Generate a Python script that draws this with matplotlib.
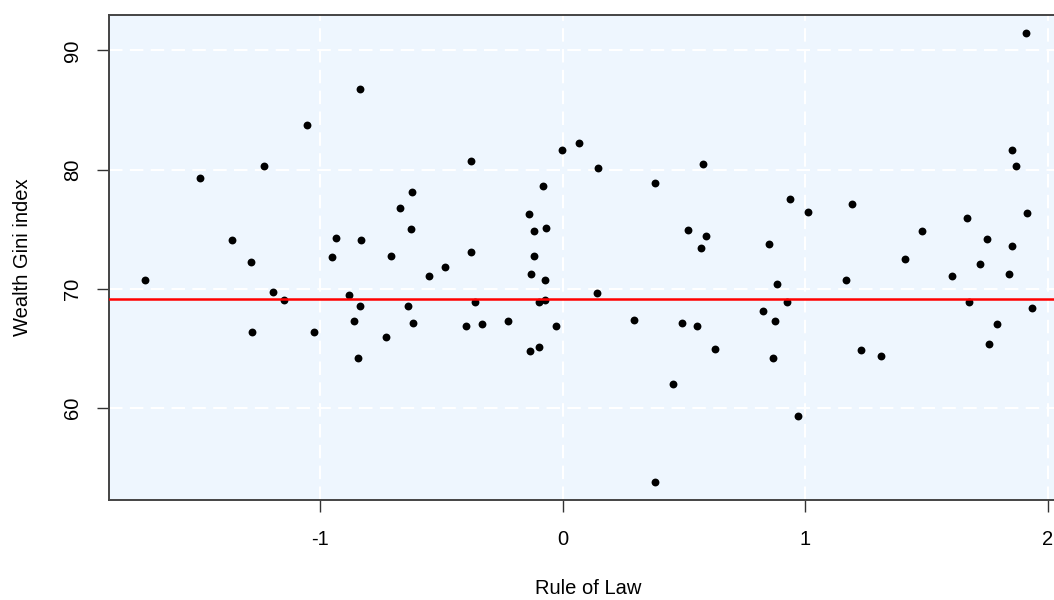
import matplotlib
matplotlib.use("Agg")
import matplotlib.pyplot as plt

plt.rcParams['font.family'] = ['Liberation Sans', 'DejaVu Sans']

# Rule of law score per country
rule_of_law = [
    -0.835, -1.053, -1.232, -1.496, -0.621, -0.669, -0.626, -1.361, -0.934, -0.831,
    -1.285, -0.950, -0.707, -0.549, -1.723, -1.194, -1.150, -1.280, -1.026, -0.881,
    -0.837, -0.859, -0.842, -0.729, -0.636, -0.615,
    -0.378, -0.004, 0.066, 0.147, 0.580, 0.380, -0.080, -0.140, -0.118, -0.070,
    -0.378, -0.118, 0.515, 0.590, 0.569, -0.486, -0.129, -0.074, -0.360, -0.098,
    -0.074, -0.398, -0.334, -0.227, -0.027, -0.135, -0.096, 0.142, 0.293, 0.493,
    0.552, 0.626, 0.456, 0.380,
    1.909, 1.850, 1.870, 0.936, 1.012, 1.191, 1.915, 1.667, 1.482, 1.747,
    1.850, 0.851, 1.412, 0.882, 0.926, 0.827, 0.877, 0.866, 0.969, 1.168,
    1.229, 1.310, 1.606, 1.719, 1.840, 1.676, 1.791, 1.758, 1.936,
]

# Wealth Gini index for the same countries
wealth_gini = [
    86.79, 83.75, 80.28, 79.27, 78.10, 76.79, 75.05, 74.11, 74.30, 74.11,
    72.23, 72.68, 72.79, 71.06, 70.72, 69.75, 69.08, 66.40, 66.40, 69.52,
    68.54, 67.26, 64.22, 65.94, 68.54, 67.15,
    80.70, 81.68, 82.24, 80.17, 80.50, 78.85, 78.66, 76.25, 74.86, 75.08,
    73.10, 72.79, 74.97, 74.41, 73.44, 71.81, 71.28, 70.72, 68.88, 68.88,
    69.08, 66.92, 67.03, 67.26, 66.92, 64.77, 65.08, 69.63, 67.37, 67.15,
    66.92, 64.97, 62.04, 53.79,
    91.46, 81.68, 80.28, 77.57, 76.48, 77.15, 76.37, 75.95, 74.86, 74.19,
    73.55, 73.77, 72.46, 70.42, 68.88, 68.12, 67.26, 64.22, 59.32, 70.72,
    64.89, 64.33, 71.06, 72.04, 71.28, 68.88, 67.03, 65.41, 68.35,
]

reference_level = 69.13
x_ticks = [-1, 0, 1, 2]
y_ticks = [60, 70, 80, 90]

fig = plt.figure(figsize=(10.54, 6.0), dpi=100)
# plot region runs a little past the right edge of the figure
ax = fig.add_axes([109 / 1054, 100 / 600, 959 / 1054, 485 / 600])
ax.set_facecolor('#EEF6FE')

ax.grid(True, color='white', linestyle=(0, (6.5, 3.5)), linewidth=1.5)
ax.set_axisbelow(True)

ax.scatter(rule_of_law, wealth_gini, s=32, color='black', zorder=3, linewidths=0)
ax.axhline(reference_level, color='#FF0000', linewidth=1.8, zorder=4)

# R-style 4% padding around the data range
xmin, xmax = min(rule_of_law), max(rule_of_law)
ymin, ymax = min(wealth_gini), max(wealth_gini)
xpad = 0.04 * (xmax - xmin)
ypad = 0.04 * (ymax - ymin)
ax.set_xlim(xmin - xpad, xmax + xpad)
ax.set_ylim(ymin - ypad, ymax + ypad)

ax.set_xticks(x_ticks)
ax.set_xticklabels(['-1', '0', '1', '2'])
ax.set_yticks(y_ticks)
ax.set_yticklabels([str(v) for v in y_ticks], rotation=90, va='center')

ax.tick_params(axis='both', length=8.5, width=1.0, color='#333333',
               labelsize=14.5, labelcolor='black')
ax.tick_params(axis='x', pad=13)
ax.tick_params(axis='y', pad=11)

for side in ['top', 'left', 'bottom', 'right']:
    ax.spines[side].set_color('#444444')
    ax.spines[side].set_linewidth(1.4)

ax.set_xlabel('Rule of Law', fontsize=14.5, labelpad=22)
ax.set_ylabel('Wealth Gini index', fontsize=14.5, labelpad=22)

fig.savefig('out.png', dpi=100)
